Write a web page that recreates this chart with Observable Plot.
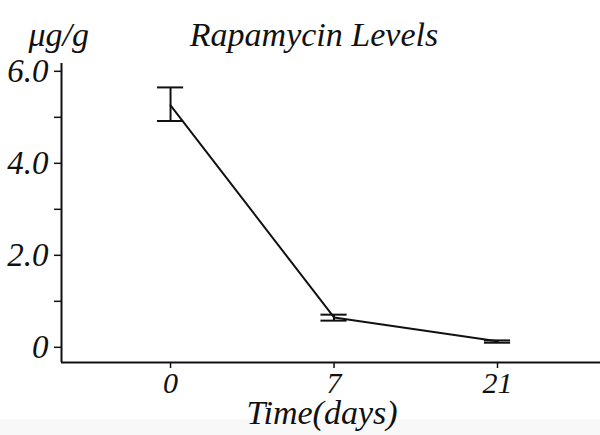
<!DOCTYPE html>
<html>
<head>
<meta charset="utf-8">
<script src="https://cdn.jsdelivr.net/npm/d3@7"></script>
<script src="https://cdn.jsdelivr.net/npm/@observablehq/plot@0.6"></script>
<style>
  html, body { margin: 0; padding: 0; background: #fff; }
</style>
</head>
<body>
<div id="chart"></div>
<script>
const days = ["0", "7", "21"];
const meanLevel = [5.26, 0.65, 0.13];
const errLow = [4.92, 0.58, 0.10];
const errHigh = [5.65, 0.71, 0.15];
const yMajorTicks = [0, 2, 4, 6];
const yMajorLabels = ["0", "2.0", "4.0", "6.0"];
const yMinorTicks = [1, 3, 5];
const titleText = "Rapamycin Levels";
const unitText = "μg/g";
const xLabelText = "Time(days)";

const data = days.map((d, i) => ({i, day: d, mean: meanLevel[i], lo: errLow[i], hi: errHigh[i]}));
const xDomain = [-0.667, 2.63];
const yDomain = [-0.33, 6.17];
const capHalf = 0.08;

const chart = Plot.plot({
  width: 600,
  height: 435,
  marginLeft: 61,
  marginRight: 0,
  marginTop: 63,
  marginBottom: 73,
  style: {
    fontFamily: "'Liberation Serif', 'Times New Roman', serif",
    fontStyle: "italic",
    fontSize: "30px",
    color: "#111",
    background: "linear-gradient(to bottom, #ffffff 419px, #f8f8f8 419px)"
  },
  x: {type: "linear", domain: xDomain, axis: null},
  y: {type: "linear", domain: yDomain, axis: null},
  marks: [
    Plot.axisY({ticks: yMajorTicks, tickFormat: (d) => yMajorLabels[yMajorTicks.indexOf(d)], tickSize: 7, tickPadding: 6, strokeWidth: 1.5, fontSize: 33, label: null}),
    Plot.axisY({ticks: yMinorTicks, tickFormat: () => "", tickSize: 7, strokeWidth: 1.5, label: null}),
    Plot.axisX({ticks: d3.range(days.length), tickFormat: (d) => days[d], tickSize: 6, tickPadding: 3, strokeWidth: 1.5, fontSize: 30, label: null}),
    Plot.ruleX([xDomain[0]], {stroke: "#111", strokeWidth: 2}),
    Plot.ruleY([yDomain[0]], {stroke: "#111", strokeWidth: 2}),
    Plot.line(data, {x: "i", y: "mean", stroke: "#111", strokeWidth: 2}),
    Plot.ruleX(data, {x: "i", y1: "lo", y2: "hi", stroke: "#111", strokeWidth: 2}),
    Plot.ruleY(data, {y: "lo", x1: (d) => d.i - capHalf, x2: (d) => d.i + capHalf, stroke: "#111", strokeWidth: 2}),
    Plot.ruleY(data, {y: "hi", x1: (d) => d.i - capHalf, x2: (d) => d.i + capHalf, stroke: "#111", strokeWidth: 2}),
    Plot.text([titleText], {frameAnchor: "top", lineAnchor: "bottom", dx: -17, dy: -18, fontSize: 34, fill: "#111"}),
    Plot.text([unitText], {frameAnchor: "top-left", textAnchor: "start", lineAnchor: "bottom", dx: -33, dy: -18, fontSize: 34, fill: "#111"}),
    Plot.text([xLabelText], {frameAnchor: "bottom", lineAnchor: "bottom", dx: -9, dy: 61, fontSize: 34, fill: "#111"})
  ]
});
document.getElementById("chart").appendChild(chart);
</script>
</body>
</html>
